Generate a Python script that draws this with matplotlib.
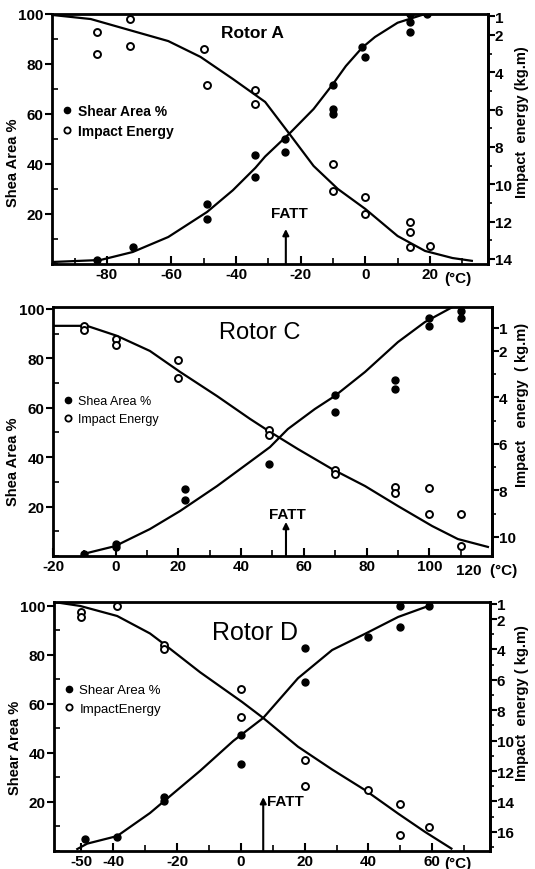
import matplotlib
matplotlib.use("Agg")
import matplotlib.pyplot as plt
from matplotlib.ticker import MultipleLocator, FixedLocator
from matplotlib.lines import Line2D

plt.rcParams['font.family'] = ['Liberation Sans', 'DejaVu Sans']

# ---- Rotor A ----
a_shear_T = [-83, -72, -49, -49, -34, -34, -25, -25, -10, -10, -10, -1, 0, 14, 14, 14, 19]
a_shear = [1.6, 6.8, 24, 18, 43.6, 35, 50, 45, 71.6, 62, 60, 86.8, 83, 100, 97, 93, 100]
a_imp_T = [-83, -83, -73, -73, -50, -49, -34, -34, -10, -10, 0, 0, 14, 14, 14, 20]
a_imp = [1.84, 3.02, 1.15, 2.59, 2.75, 4.68, 4.95, 5.7, 8.9, 10.36, 10.68, 11.59, 12.02, 12.56, 13.36, 13.3]
a_shear_curve_T = [-97, -82, -72, -61, -49, -41, -34, -31, -23, -16, -10, -6, -1, 3, 10, 18.5]
a_shear_curve = [0.8, 1.6, 4.8, 10.8, 20.8, 29.5, 38.5, 43, 52.8, 62, 72, 79.2, 86.5, 90.8, 96.5, 100]
a_imp_curve_T = [-97, -85, -72, -61, -51, -41, -31, -23, -16, -8.5, 0, 10, 18.5, 27, 33]
a_imp_curve = [0.93, 1.15, 1.79, 2.33, 3.18, 4.36, 5.59, 7.41, 9.02, 10.25, 11.32, 12.77, 13.57, 13.95, 14.1]
a_fatt = -24.6

# ---- Rotor C ----
c_shear_T = [-10, 0, 0, 22, 22, 49, 70, 70, 89, 89, 100, 100, 110, 110]
c_shear = [0.8, 4.9, 3.6, 27, 22.7, 37.2, 65.2, 58.3, 71.3, 67.6, 96.4, 93.1, 99, 96.5]
c_imp_T = [-10, -10, 0, 0, 20, 20, 49, 49, 70, 70, 89, 89, 100, 100, 110, 110]
c_imp = [0.92, 1.1, 1.48, 1.74, 2.39, 3.16, 5.4, 5.6, 7.1, 7.3, 7.85, 8.1, 7.9, 9.0, 9.0, 10.4]
c_shear_curve_T = [-10.4, -0.2, 10.9, 20.5, 32.3, 42.8, 49.2, 54.9, 63.5, 69.9, 79.5, 90, 98.6, 107]
c_shear_curve = [0.8, 4, 10.9, 18.2, 28.3, 38.1, 44.1, 51.4, 59.5, 64.8, 74.5, 86.6, 94.7, 100.5]
c_imp_curve_T = [-20, -9.2, 0.4, 10.9, 20.5, 32.3, 42.8, 49.2, 58.1, 69, 79.5, 90, 100.9, 109.1, 118.7]
c_imp_curve = [0.92, 0.92, 1.35, 2.0, 2.9, 3.94, 4.92, 5.48, 6.22, 7.08, 7.81, 8.67, 9.53, 10.09, 10.43]
c_fatt = 54.3

# ---- Rotor D ----
d_shear_T = [-49, -39, -24, -24, 0, 0, 20, 20, 40, 50, 50, 59]
d_shear = [4.9, 5.7, 22, 20.5, 47.3, 35.5, 82.9, 69, 87.3, 91.4, 100, 100]
d_imp_T = [-50, -50, -39, -24, -24, 0, 0, 20, 20, 40, 50, 50, 59]
d_imp = [1.54, 1.87, 1.14, 3.7, 4.0, 6.6, 8.45, 11.28, 12.99, 13.25, 14.17, 16.2, 15.7]
d_shear_curve_T = [-51.3, -48.2, -38.8, -28.5, -24.4, -12.8, -2.4, 7, 17.9, 28.6, 38.9, 49.3, 59.9]
d_shear_curve = [0.8, 3.0, 6.1, 15.5, 20.0, 32.7, 44.9, 54.3, 70.5, 82.0, 88.6, 95.5, 100.5]
d_imp_curve_T = [-58.6, -50.4, -38.8, -28.5, -24.4, -12.8, 0.4, 7, 17.9, 28.6, 38.9, 49.3, 57.7, 66]
d_imp_curve = [0.88, 1.14, 1.8, 2.95, 3.6, 5.5, 7.46, 8.51, 10.4, 11.9, 13.25, 14.8, 16.0, 17.1]
d_fatt = 7

W, H = 535, 870
fig = plt.figure(figsize=(W / 100, H / 100), dpi=100)


def px_rect(l, r, t, b):
    return [l / W, 1 - b / H, (r - l) / W, (b - t) / H]


def panel(rect, xlim, ylim, elim, xticks, xlabels, eticks, elabels,
          sT, s, iT, imp, scT, sc, icT, ic, fatt, fatt_top, fatt_txt,
          title, title_xy, title_fs, title_w, leg_labels, leg_xy, leg_fs, leg_w):
    ax = fig.add_axes(rect)
    ax.set_xlim(*xlim)
    ax.set_ylim(*ylim)
    ax2 = ax.twinx()
    ax2.set_ylim(*elim)

    ax.plot(scT, sc, color='black', lw=1.6, zorder=3)
    ax2.plot(icT, ic, color='black', lw=1.6, zorder=3)
    ax.plot(sT, s, 'o', color='black', ms=5, zorder=4)
    ax2.plot(iT, imp, 'o', mfc='white', mec='black', mew=1.4, ms=5, zorder=4)

    for sp in ax.spines.values():
        sp.set_linewidth(2)
    ax2.spines['right'].set_linewidth(2)

    ax.set_xticks(xticks)
    ax.set_xticklabels(xlabels)
    ax.xaxis.set_minor_locator(MultipleLocator(10))
    ax.tick_params(axis='x', which='major', direction='in', length=6, width=1.5,
                   labelsize=11, pad=2)
    ax.tick_params(axis='x', which='minor', direction='in', length=4, width=1.2)
    ax.set_yticks([20, 40, 60, 80, 100])
    ax.yaxis.set_minor_locator(MultipleLocator(10))
    ax.tick_params(axis='y', which='major', direction='out', length=5, width=1.5,
                   labelsize=11, pad=1)
    ax.tick_params(axis='y', which='minor', direction='in', length=4, width=1.2)
    for lab in ax.get_xticklabels() + ax.get_yticklabels():
        lab.set_fontweight('bold')

    ax2.yaxis.set_major_locator(FixedLocator(eticks))
    ax2.set_yticklabels(elabels)
    ax2.yaxis.set_minor_locator(MultipleLocator(1))
    ax2.tick_params(axis='y', which='major', direction='out', length=5, width=1.5,
                    labelsize=11, pad=0)
    ax2.tick_params(axis='y', which='minor', direction='out', length=3, width=1.2)
    for lab in ax2.get_yticklabels():
        lab.set_fontweight('bold')

    # FATT arrow
    ax.annotate('', xy=(fatt, fatt_top), xytext=(fatt, 0),
                arrowprops=dict(arrowstyle='-|>', color='black', lw=1.5,
                                mutation_scale=9, shrinkA=0, shrinkB=0))
    ax.text(fatt_txt[0], fatt_txt[1], 'FATT', ha=fatt_txt[2], va='center',
            fontsize=11, fontweight='bold')

    ax.text(title_xy[0], title_xy[1], title, transform=ax.transAxes,
            ha='center', va='center', fontsize=title_fs, fontweight=title_w)

    handles = [Line2D([], [], ls='none', marker='o', color='black', ms=4.5),
               Line2D([], [], ls='none', marker='o', mfc='white', mec='black',
                      mew=1.3, ms=4.5)]
    ax.legend(handles, leg_labels, loc='upper left', bbox_to_anchor=leg_xy,
              frameon=False, handlelength=0.6, handletextpad=0.5,
              labelspacing=0.45, borderaxespad=0, borderpad=0,
              prop=dict(size=leg_fs, weight=leg_w))
    return ax, ax2


# Rotor A
axA, _ = panel(px_rect(52, 488, 15, 265), (-97, 38), (0, 100), (14.27, 0.88),
               [-80, -60, -40, -20, 0, 20], ['-80', '-60', '-40', '-20', '0', '20'],
               [1, 2, 4, 6, 8, 10, 12, 14], ['1', '2', '4', '6', '8', '10', '12', '14'],
               a_shear_T, a_shear, a_imp_T, a_imp,
               a_shear_curve_T, a_shear_curve, a_imp_curve_T, a_imp_curve,
               a_fatt, 14, (a_fatt + 1, 20.5, 'center'),
               'Rotor A', (0.46, 0.925), 12.5, 'bold',
               ['Shear Area %', 'Impact Energy'], (0.025, 0.64), 10, 'bold')
axA.annotate('(°C)', xy=(28.7, 0), xycoords=('data', 'axes fraction'),
             xytext=(0, -10), textcoords='offset points', ha='center', va='center',
             fontsize=11, fontweight='bold')

# Rotor C
axC, _ = panel(px_rect(53, 492, 308, 557), (-20, 120), (0, 100.8), (10.82, 0.11),
               [-20, 0, 20, 40, 60, 80, 100, 120], ['-20', '0', '20', '40', '60', '80', '100', ''],
               [1, 2, 4, 6, 8, 10], ['1', '2', '4', '6', '8', '10'],
               c_shear_T, c_shear, c_imp_T, c_imp,
               c_shear_curve_T, c_shear_curve, c_imp_curve_T, c_imp_curve,
               c_fatt, 13.8, (c_fatt + 0.5, 17, 'center'),
               'Rotor C', (0.47, 0.9), 17, 'normal',
               ['Shea Area %', 'Impact Energy'], (0.025, 0.645), 9, 'normal')
axC.annotate('120  (°C)', xy=(108.5, 0), xycoords=('data', 'axes fraction'),
             xytext=(0, -10), textcoords='offset points', ha='left', va='center',
             fontsize=11, fontweight='bold')

# Rotor D
axD, _ = panel(px_rect(54, 490, 603, 852), (-58.6, 78.1), (0, 101.6), (17.26, 0.88),
               [-50, -40, -20, 0, 20, 40, 60], ['-50', '-40', '-20', '0', '20', '40', '60'],
               [1, 2, 4, 6, 8, 10, 12, 14, 16],
               ['1', '2', '4', '6', '8', '10', '12', '14', '16'],
               d_shear_T, d_shear, d_imp_T, d_imp,
               d_shear_curve_T, d_shear_curve, d_imp_curve_T, d_imp_curve,
               d_fatt, 22, (d_fatt + 1.2, 20.4, 'left'),
               'Rotor D', (0.46, 0.88), 18, 'normal',
               ['Shear Area %', 'ImpactEnergy'], (0.025, 0.67), 9.5, 'normal')
axD.annotate('(°C)', xy=(68.1, 0), xycoords=('data', 'axes fraction'),
             xytext=(0, -9), textcoords='offset points', ha='center', va='center',
             fontsize=11, fontweight='bold')

# axis titles
for (lx, ly, ltxt), (rx, ry, rtxt) in [
        ((13, 163, 'Shea Area %'), (522, 122, 'Impact  energy (kg.m)')),
        ((13, 462, 'Shea Area %'), (522, 405, 'Impact   energy  ( kg.m)')),
        ((15, 748, 'Shear Area %'), (522, 703, 'Impact  energy ( kg.m)'))]:
    fig.text(lx / W, 1 - ly / H, ltxt, rotation=90, ha='center', va='center',
             fontsize=10.5, fontweight='bold')
    fig.text(rx / W, 1 - ry / H, rtxt, rotation=90, ha='center', va='center',
             fontsize=10.5, fontweight='bold')

fig.savefig('out.png', dpi=100, facecolor='white')
